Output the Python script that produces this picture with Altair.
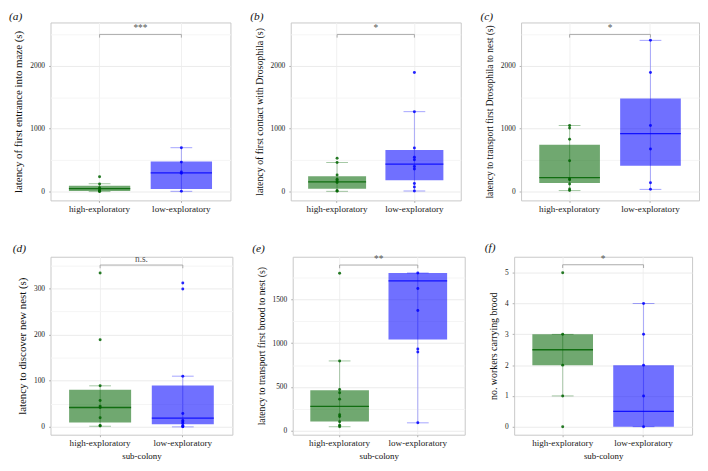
import altair as alt
import pandas as pd

# ---------------------------------------------------------
# DATA
# ---------------------------------------------------------
groups = ["high-exploratory", "low-exploratory"]
colors = ["#006400", "#0000ff"]

labels = ["(a)", "(b)", "(c)", "(d)", "(e)", "(f)"]
y_titles = [
    "latency of first entrance into maze (s)",
    "latency of first contact with Drosophila (s)",
    "latency to transport first Drosophila to nest (s)",
    "latency to discover new nest (s)",
    "latency to transport first brood to nest (s)",
    "no. workers carrying brood",
]
sig_labels = ["***", "*", "*", "n.s.", "**", "*"]
bracket_y = [2500, 2500, 2500, 351, 1897, 5.26]

# y scale domains and tick steps
y_domains = [[-140, 2690], [-140, 2690], [-140, 2690], [-17, 369], [-49, 1992], [-0.26, 5.52]]
major_steps = [1000, 1000, 1000, 100, 500, 1]

# box stats per panel: [high, low]
q1 = [[10, 42], [47, 182], [135, 411], [9.3, 5.7], [102, 1043], [2, 0]]
med = [[47, 297], [156, 437], [224, 922], [42, 19], [276, 1716], [2.5, 0.5]]
q3 = [[94, 479], [245, 661], [745, 1479], [80.7, 90], [461, 1806], [3, 2]]
w_lo = [[0, 5], [5, 10], [16, 36], [1.4, 0], [42, 87], [1, 0]]
w_hi = [[125, 698], [464, 1271], [1052, 2406], [89, 110], [797, 1806], [3, 4]]

# individual points
a_high = [235, 120, 60, 30, 10, 5, 0]
a_low = [698, 469, 312, 290, 5]
b_high = [531, 464, 266, 198, 172, 146, 16, 5]
b_low = [1896, 1271, 693, 547, 505, 401, 359, 130, 73, 10]
c_high = [1052, 1010, 833, 490, 200, 190, 120, 40, 16]
c_low = [2406, 1896, 1052, 677, 141, 36]
d_high = [334, 189, 89, 57, 45, 42, 20, 3, 2]
d_low = [312, 299, 110, 29, 14, 11, 8, 3, 1, 0]
e_high = [1803, 797, 470, 431, 359, 181, 160, 100, 60, 42]
e_low = [1806, 1629, 1376, 933, 900, 87]
f_high = [5, 3, 2, 1, 0]
f_low = [4, 3, 2, 1, 0]
points = [(a_high, a_low), (b_high, b_low), (c_high, c_low),
          (d_high, d_low), (e_high, e_low), (f_high, f_low)]

widths = [182, 172, 180, 184, 174, 180]
title_sizes = [11, 10, 9.5, 11, 9.8, 10]
HEIGHT = 180
FONT = "Liberation Serif"


# ---------------------------------------------------------
# ONE PANEL
# ---------------------------------------------------------
def panel(i, x_title=None):
    width = widths[i]
    lo_d, hi_d = y_domains[i]
    step = major_steps[i]

    # major + minor tick values inside the domain
    vals = []
    v = 0.0
    while v <= hi_d:
        vals.append(round(v, 6))
        v += step / 2
    is_major = f"abs(datum.value / {step} - round(datum.value / {step})) < 1e-6"

    box_df = pd.DataFrame({
        "group": groups, "q1": q1[i], "med": med[i], "q3": q3[i],
        "lo": w_lo[i], "hi": w_hi[i],
    })
    hi_pts, lo_pts = points[i]
    pts_df = pd.DataFrame({
        "group": [groups[0]] * len(hi_pts) + [groups[1]] * len(lo_pts),
        "value": hi_pts + lo_pts,
    })
    drop = (hi_d - lo_d) * 0.018
    br = bracket_y[i]
    br_df = pd.DataFrame({
        "group": [groups[0], groups[0], groups[1], groups[1]],
        "y": [br - drop, br, br, br - drop],
        "k": [0, 1, 2, 3],
    })
    sig_df = pd.DataFrame({"y": [br], "t": [sig_labels[i]]})

    yscale = alt.Scale(domain=y_domains[i], nice=False, zero=False)
    xscale = alt.Scale(domain=groups, paddingInner=0.25, paddingOuter=0.225)
    cscale = alt.Scale(domain=groups, range=colors)

    x_axis = alt.Axis(labelAngle=0, grid=True, gridColor="#f0f0f0",
                      domain=False, tickSize=2, tickColor="#b0b0b0",
                      labelFontSize=9.2, labelColor="#222222",
                      labelPadding=2, titleFontSize=9,
                      titleFontWeight="normal", titlePadding=4)
    y_axis = alt.Axis(
        values=vals, format="d",
        labelExpr=f"{is_major} ? datum.label : ''",
        gridColor={"condition": {"test": is_major, "value": "#ebebeb"}, "value": "#f5f5f5"},
        tickColor={"condition": {"test": is_major, "value": "#b0b0b0"}, "value": "transparent"},
        tickSize=2, domain=False, labelFontSize=7.5, labelColor="#222222",
        labelPadding=4, titleFontSize=title_sizes[i], titleFontWeight="normal",
        titlePadding=6,
    )

    def X():
        return alt.X("group:N", scale=xscale, axis=x_axis, title=x_title)

    def Y(field):
        return alt.Y(field, scale=yscale, axis=y_axis, title=y_titles[i])

    color = alt.Color("group:N", scale=cscale, legend=None)

    base = alt.Chart(box_df)
    whisker = base.mark_rule(strokeWidth=0.8, opacity=0.4).encode(
        x=X(), y=Y("lo:Q"), y2="hi:Q", color=color)
    cap_lo = base.mark_tick(size=22, thickness=0.9, opacity=0.4).encode(
        x=X(), y=Y("lo:Q"), color=color)
    cap_hi = base.mark_tick(size=22, thickness=0.9, opacity=0.4).encode(
        x=X(), y=Y("hi:Q"), color=color)
    box = base.mark_bar(opacity=0.56).encode(
        x=X(), y=Y("q1:Q"), y2="q3:Q", color=color)
    median = base.mark_tick(size=width / 2.2 * 0.75, thickness=1.3, opacity=0.85).encode(
        x=X(), y=Y("med:Q"), color=color)
    dots = alt.Chart(pts_df).mark_circle(size=9, opacity=0.85).encode(
        x=X(), y=Y("value:Q"), color=color)
    bracket = alt.Chart(br_df).mark_line(color="#a0a0a0", strokeWidth=0.9).encode(
        x=X(), y=Y("y:Q"), order="k:Q")
    sig = alt.Chart(sig_df).mark_text(
        baseline="bottom", dy=-1, fontSize=9.5, color="#555555", font=FONT).encode(
        x=alt.value(width / 2), y=Y("y:Q"), text="t:N")

    return alt.layer(box, whisker, cap_lo, cap_hi, median, dots, bracket, sig).properties(
        width=width, height=HEIGHT,
        title=alt.TitleParams(labels[i], anchor="start", frame="bounds",
                              fontStyle="italic", fontWeight="normal",
                              fontSize=11.5, font=FONT, offset=0, dx=-4),
    )


top = alt.hconcat(panel(0), panel(1), panel(2), spacing=18)
bottom = alt.hconcat(panel(3, "sub-colony"), panel(4, "sub-colony"),
                     panel(5, "sub-colony"), spacing=18)

chart = (
    alt.vconcat(top, bottom, spacing=28)
    .properties(padding=0)
    .configure_view(stroke="#c8c8c8", strokeWidth=1)
    .configure_axis(labelFont=FONT, titleFont=FONT, titleColor="#111111")
    .configure_title(font=FONT, color="#111111")
)

chart.save("out.html", embed_options={"renderer": "svg", "actions": False})
